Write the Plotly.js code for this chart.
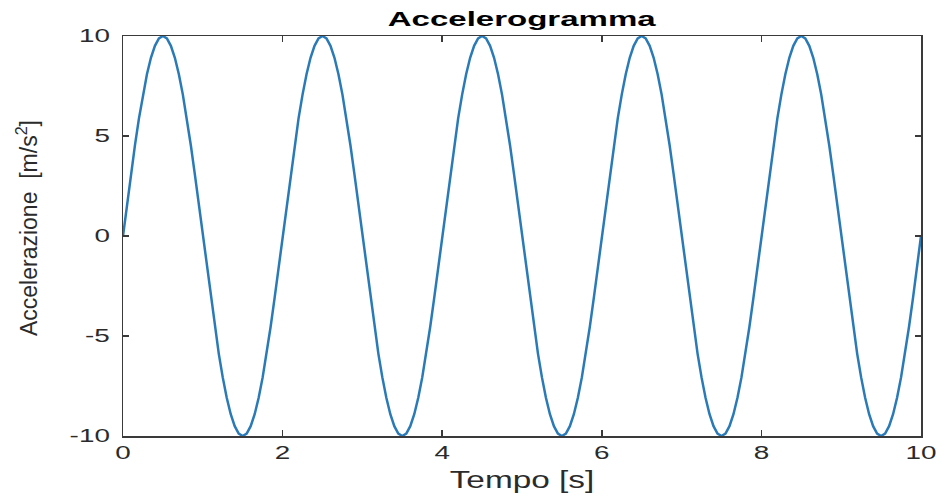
<!DOCTYPE html>
<html>
<head>
<meta charset="utf-8">
<script src="https://cdn.plot.ly/plotly-3.0.1.min.js"></script>
<style>html,body{margin:0;padding:0;background:#fff;}#chart{width:947px;height:500px;}</style>
</head>
<body>
<div id="chart"></div>
<script>
var tempo = [0,0.05,0.1,0.15,0.2,0.25,0.3,0.35,0.4,0.45,0.5,0.55,0.6,0.65,0.7,0.75,0.8,0.85,0.9,0.95,
1,1.05,1.1,1.15,1.2,1.25,1.3,1.35,1.4,1.45,1.5,1.55,1.6,1.65,1.7,1.75,1.8,1.85,1.9,1.95,
2,2.05,2.1,2.15,2.2,2.25,2.3,2.35,2.4,2.45,2.5,2.55,2.6,2.65,2.7,2.75,2.8,2.85,2.9,2.95,
3,3.05,3.1,3.15,3.2,3.25,3.3,3.35,3.4,3.45,3.5,3.55,3.6,3.65,3.7,3.75,3.8,3.85,3.9,3.95,
4,4.05,4.1,4.15,4.2,4.25,4.3,4.35,4.4,4.45,4.5,4.55,4.6,4.65,4.7,4.75,4.8,4.85,4.9,4.95,
5,5.05,5.1,5.15,5.2,5.25,5.3,5.35,5.4,5.45,5.5,5.55,5.6,5.65,5.7,5.75,5.8,5.85,5.9,5.95,
6,6.05,6.1,6.15,6.2,6.25,6.3,6.35,6.4,6.45,6.5,6.55,6.6,6.65,6.7,6.75,6.8,6.85,6.9,6.95,
7,7.05,7.1,7.15,7.2,7.25,7.3,7.35,7.4,7.45,7.5,7.55,7.6,7.65,7.7,7.75,7.8,7.85,7.9,7.95,
8,8.05,8.1,8.15,8.2,8.25,8.3,8.35,8.4,8.45,8.5,8.55,8.6,8.65,8.7,8.75,8.8,8.85,8.9,8.95,
9,9.05,9.1,9.15,9.2,9.25,9.3,9.35,9.4,9.45,9.5,9.55,9.6,9.65,9.7,9.75,9.8,9.85,9.9,9.95,10];
var accelerazione = [
0,1.56,3.09,4.54,5.88,7.07,8.09,8.91,9.51,9.88,10,9.88,9.51,8.91,8.09,7.07,5.88,4.54,3.09,1.56,
0,-1.56,-3.09,-4.54,-5.88,-7.07,-8.09,-8.91,-9.51,-9.88,-10,-9.88,-9.51,-8.91,-8.09,-7.07,-5.88,-4.54,-3.09,-1.56,
0,1.56,3.09,4.54,5.88,7.07,8.09,8.91,9.51,9.88,10,9.88,9.51,8.91,8.09,7.07,5.88,4.54,3.09,1.56,
0,-1.56,-3.09,-4.54,-5.88,-7.07,-8.09,-8.91,-9.51,-9.88,-10,-9.88,-9.51,-8.91,-8.09,-7.07,-5.88,-4.54,-3.09,-1.56,
0,1.56,3.09,4.54,5.88,7.07,8.09,8.91,9.51,9.88,10,9.88,9.51,8.91,8.09,7.07,5.88,4.54,3.09,1.56,
0,-1.56,-3.09,-4.54,-5.88,-7.07,-8.09,-8.91,-9.51,-9.88,-10,-9.88,-9.51,-8.91,-8.09,-7.07,-5.88,-4.54,-3.09,-1.56,
0,1.56,3.09,4.54,5.88,7.07,8.09,8.91,9.51,9.88,10,9.88,9.51,8.91,8.09,7.07,5.88,4.54,3.09,1.56,
0,-1.56,-3.09,-4.54,-5.88,-7.07,-8.09,-8.91,-9.51,-9.88,-10,-9.88,-9.51,-8.91,-8.09,-7.07,-5.88,-4.54,-3.09,-1.56,
0,1.56,3.09,4.54,5.88,7.07,8.09,8.91,9.51,9.88,10,9.88,9.51,8.91,8.09,7.07,5.88,4.54,3.09,1.56,
0,-1.56,-3.09,-4.54,-5.88,-7.07,-8.09,-8.91,-9.51,-9.88,-10,-9.88,-9.51,-8.91,-8.09,-7.07,-5.88,-4.54,-3.09,-1.56,0];
var xTicks = [0,2,4,6,8,10];
var xTickLabels = ['0','2','4','6','8','10'];
var yTicks = [-10,-5,0,5,10];
var yTickLabels = ['-10','-5','0','5','10'];

var trace = {x: tempo, y: accelerazione, type: 'scatter', mode: 'lines',
  line: {color: '#2a7ab8', width: 2.5}, hoverinfo: 'none'};

var FONT = 'Liberation Sans, Arial, sans-serif';
var axisCommon = {showgrid: false, zeroline: false, showline: true, mirror: 'ticks',
  linecolor: '#3a3a3a', linewidth: 1.5, ticks: 'inside', ticklen: 6, tickwidth: 1.5,
  tickcolor: '#3a3a3a', tickfont: {family: FONT, size: 18, color: '#2b2b2b'}};

var layout = {
  width: 947, height: 500,
  margin: {l: 123, r: 26, t: 36, b: 64},
  paper_bgcolor: '#fff', plot_bgcolor: '#fff',
  showlegend: false,
  title: {text: 'Accelerogramma', xref: 'paper', x: 0.5, xanchor: 'center', yref: 'container', y: 0.962, yanchor: 'middle',
    font: {family: FONT, size: 20, color: '#000', weight: 'bold'}},
  xaxis: Object.assign({}, axisCommon, {range: [0, 10], tickmode: 'array', tickvals: xTicks, ticktext: xTickLabels,
    title: {text: 'Tempo [s]', standoff: 10, font: {family: FONT, size: 23, color: '#2b2b2b'}}}),
  yaxis: Object.assign({}, axisCommon, {range: [-10, 10], tickmode: 'array', tickvals: yTicks, ticktext: yTickLabels,
    ticklabelstandoff: 8,
    title: {text: 'Accelerazione  [m/s<sup>2</sup>]', standoff: 40, font: {family: FONT, size: 23, color: '#2b2b2b'}}})
};

// widen horizontal texts, keeping their anchor point where Plotly put it
function stretch(sel, factor, keep) {
  document.querySelectorAll(sel).forEach(function (t) {
    var b0 = t.getBBox();
    var L = t.getComputedTextLength();
    if (L <= 0) return;
    t.setAttribute('textLength', (L * factor).toFixed(1));
    t.setAttribute('lengthAdjust', 'spacingAndGlyphs');
    var b1 = t.getBBox();
    var ref0 = keep === 'right' ? b0.x + b0.width : b0.x + b0.width / 2;
    var ref1 = keep === 'right' ? b1.x + b1.width : b1.x + b1.width / 2;
    var x = parseFloat(t.getAttribute('x') || '0');
    t.setAttribute('x', (x + ref0 - ref1).toFixed(1));
  });
}

Plotly.newPlot('chart', [trace], layout, {displayModeBar: false, staticPlot: true}).then(function () {
  stretch('.xtick text', 1.55, 'center');
  stretch('.ytick text', 1.55, 'right');
  stretch('.g-gtitle text', 1.65, 'center');
  stretch('.g-xtitle text', 1.45, 'center');
  var yt = document.querySelector('.g-ytitle');
  if (yt) yt.setAttribute('transform', 'translate(0,-8)');
});
</script>
</body>
</html>
